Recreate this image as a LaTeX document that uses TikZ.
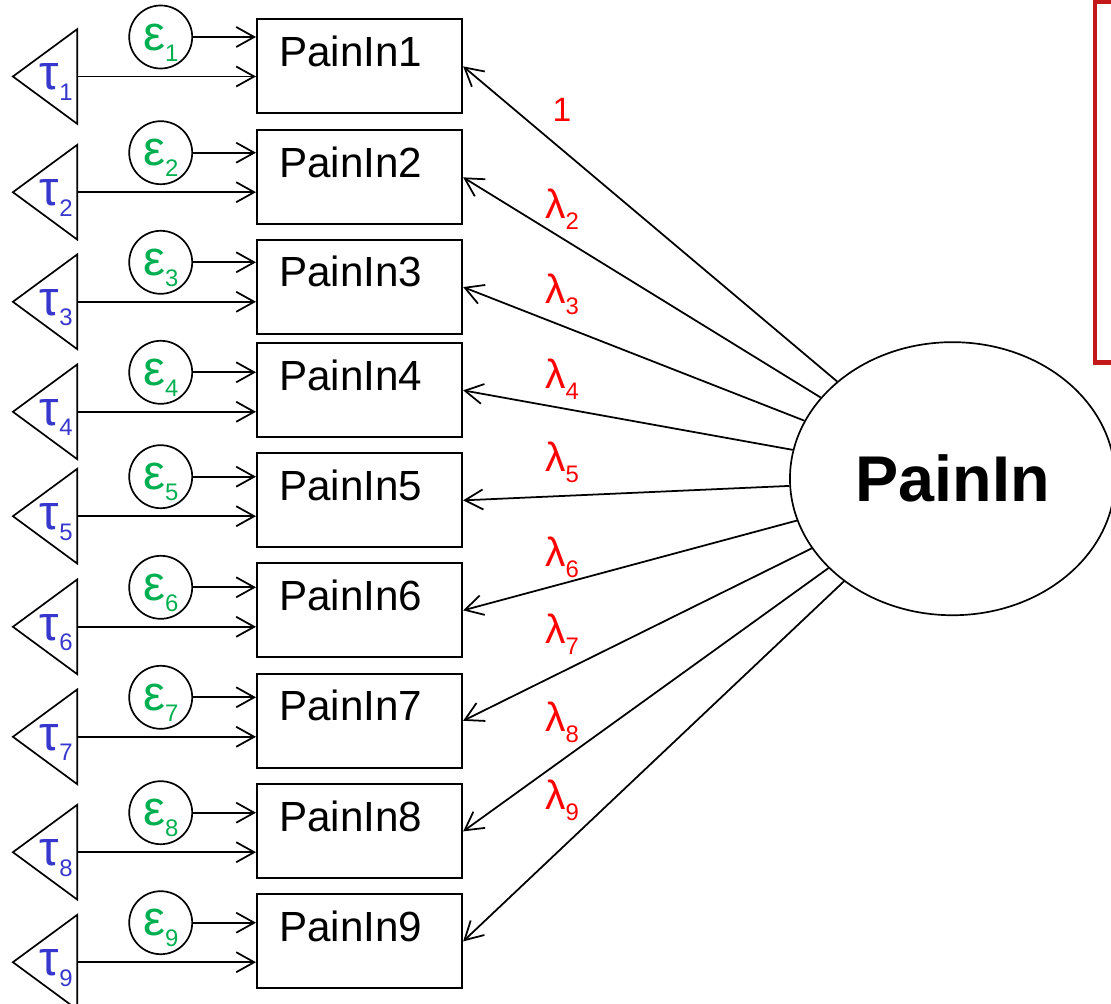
\documentclass[tikz,border=0pt]{standalone}
\usepackage{fontspec}
\setmainfont{Liberation Sans}
\usetikzlibrary{arrows.meta,shapes.geometric}
\definecolor{epsgreen}{RGB}{0,176,80}
\definecolor{taublue}{RGB}{55,55,205}
\definecolor{lamred}{RGB}{255,0,0}
\definecolor{boxred}{RGB}{195,25,25}
\newcommand\lowsub[1]{\raisebox{-0.27cm}{\fontsize{17pt}{17pt}\selectfont #1}}
\tikzset{
  indicator/.style={draw, line width=1.5pt, inner xsep=0.55cm, inner ysep=0pt,
    text width=4.025cm, align=left, text height=1.1675cm, text depth=1.1825cm,
    font=\fontsize{30pt}{36pt}\selectfont},
  errterm/.style={draw, circle, line width=1.2pt, minimum size=1.575cm, inner sep=0pt,
    text depth=0pt, text=epsgreen, font=\fontsize{35pt}{40pt}\selectfont},
  intercept/.style={draw, isosceles triangle, isosceles triangle stretches,
    shape border rotate=180, minimum height=1.6075cm, minimum width=2.3675cm,
    inner sep=0pt, line width=1.2pt},
  taulabel/.style={anchor=base east, inner sep=0pt, text=taublue,
    font=\fontsize{35pt}{40pt}\selectfont},
  loadlabel/.style={inner sep=0pt, text=lamred, font=\fontsize{29pt}{34pt}\selectfont},
  latentvar/.style={draw, ellipse, line width=1.2pt, minimum width=8.125cm,
    minimum height=6.825cm, inner sep=0pt, font=\bfseries\fontsize{46pt}{55pt}\selectfont},
  regarrow/.style={-{Straight Barb[length=4.5mm,width=5mm]}, line width=1.25pt},
  notebox/.style={draw=boxred, line width=3.5pt},
}
% one indicator: #1 index, #2 box top, #3 error term y, #4 loading, #5 loading y
\def\indicatorrow#1#2#3#4#5{%
  \node[indicator, anchor=north west] (box#1) at (256,#2) {PainIn#1};
  \node[errterm] (eps#1) at (160.7,#3) {ε\lowsub{#1}};
  \node[intercept, anchor=apex] (tri#1) at (10.7,#3+39.5) {};
  \node[taulabel] (tau#1) at (73,#3+52.8) {τ\lowsub{#1}};
  \node[loadlabel] (lam#1) at (562,#5) {#4};
  \draw[regarrow] (eps#1) -- (eps#1 -| box#1.west);
  \draw[regarrow] (tri#1.east) -- (tri#1.east -| box#1.west);
  \draw[regarrow] (pain) -- (box#1.east);
}

\begin{document}
\begin{tikzpicture}[x=0.025cm, y=-0.025cm]
  \useasboundingbox (0,0) rectangle (1111,1004);
  \clip (0,0) rectangle (1111,1004);

  \draw[notebox] (1095,1.5) rectangle (1200,362.7);
  \node[latentvar] (pain) at (952.5,478.7) {PainIn};

  \indicatorrow{1}{18.3}{37}{\fontsize{24pt}{28pt}\selectfont 1}{110}
  \indicatorrow{2}{129.3}{152.7}{λ\lowsub{2}}{209.5}
  \indicatorrow{3}{239}{262.3}{λ\lowsub{3}}{294.5}
  \indicatorrow{4}{342.3}{372.3}{λ\lowsub{4}}{379}
  \indicatorrow{5}{452.3}{476.7}{λ\lowsub{5}}{462.5}
  \indicatorrow{6}{562.3}{587.3}{λ\lowsub{6}}{557.5}
  \indicatorrow{7}{672.7}{697.3}{λ\lowsub{7}}{634}
  \indicatorrow{8}{783.3}{812.7}{λ\lowsub{8}}{722.5}
  \indicatorrow{9}{893.3}{922.7}{λ\lowsub{9}}{800.5}
\end{tikzpicture}
\end{document}
